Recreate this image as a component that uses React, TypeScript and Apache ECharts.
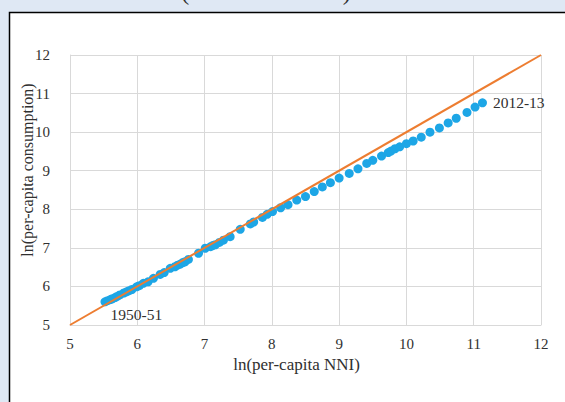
import React, { useEffect, useRef } from "react";
import * as echarts from "echarts";

const nniLn = [
  5.52, 5.56, 5.60, 5.63, 5.67, 5.70, 5.74, 5.80, 5.84, 5.88, 5.92, 5.99, 6.03,
  6.09, 6.16, 6.24, 6.34, 6.40, 6.49, 6.56, 6.60, 6.64, 6.68, 6.71, 6.76,
  6.91, 7.01, 7.09, 7.12, 7.16, 7.22, 7.28, 7.38, 7.53, 7.68, 7.73, 7.86,
  7.93, 8.01, 8.13, 8.24, 8.37, 8.50, 8.63, 8.75, 8.87, 9.00, 9.15, 9.28,
  9.41, 9.50, 9.63, 9.73, 9.77, 9.83, 9.90, 10.00, 10.10, 10.22, 10.35,
  10.49, 10.62, 10.74, 10.90, 11.02, 11.13,
];
const consLn = [
  5.60, 5.63, 5.66, 5.68, 5.71, 5.74, 5.78, 5.83, 5.86, 5.89, 5.92, 5.99, 6.02,
  6.08, 6.12, 6.21, 6.31, 6.36, 6.47, 6.51, 6.55, 6.58, 6.62, 6.64, 6.70,
  6.86, 6.99, 7.03, 7.06, 7.08, 7.14, 7.20, 7.29, 7.48, 7.62, 7.67, 7.79,
  7.87, 7.94, 8.04, 8.12, 8.24, 8.33, 8.46, 8.58, 8.69, 8.81, 8.93, 9.05,
  9.19, 9.27, 9.38, 9.47, 9.51, 9.57, 9.62, 9.70, 9.77, 9.87, 10.00,
  10.11, 10.24, 10.36, 10.51, 10.65, 10.76,
];
const refLineX = [5, 12];
const refLineY = [5, 12];
const firstLabel = "1950-51";
const lastLabel = "2012-13";
const xName = "ln(per-capita NNI)";
const yName = "ln(per-capita consumption)";
const titleText = "(Old CSO Series)";

const FONT = "'Liberation Serif', 'Times New Roman', serif";
const TEXT = "#303030";

export default function App() {
  const ref = useRef<HTMLDivElement>(null);
  useEffect(() => {
    document.body.style.margin = "0";
    if (!ref.current) return;
    const chart = echarts.init(ref.current, undefined, { renderer: "svg" });
    const n = nniLn.length;
    const scatterData = nniLn.map((x, i) => {
      const item: any = { value: [x, consLn[i]] };
      if (i === 0) {
        item.label = {
          show: true,
          formatter: firstLabel,
          position: [10, 9],
          align: "left",
          verticalAlign: "top",
        };
      } else if (i === n - 1) {
        item.label = {
          show: true,
          formatter: lastLabel,
          position: "right",
          distance: 6,
        };
      }
      return item;
    });
    chart.setOption({
      animation: false,
      backgroundColor: "#dfe8f4",
      textStyle: { fontFamily: FONT },
      graphic: [
        {
          type: "rect",
          shape: { x: 9.5, y: 12.5, width: 600, height: 420 },
          style: { fill: "#ffffff", stroke: "#000000", lineWidth: 1.5 },
          z: -10,
        },
        {
          type: "text",
          x: 266,
          y: 4,
          style: {
            text: titleText,
            fontFamily: FONT,
            fontSize: 24,
            fill: TEXT,
            textAlign: "center",
            textVerticalAlign: "bottom",
          },
          z: -5,
        },
        {
          type: "text",
          x: 27,
          y: 170,
          rotation: Math.PI / 2,
          style: {
            text: yName,
            fontFamily: FONT,
            fontSize: 16,
            fill: TEXT,
            textAlign: "center",
            textVerticalAlign: "middle",
          },
        },
      ],
      grid: { left: 70, right: 24, top: 55, bottom: 77 },
      xAxis: {
        type: "value",
        min: 5,
        max: 12,
        interval: 1,
        name: xName,
        nameLocation: "middle",
        nameGap: 31,
        nameTextStyle: { fontFamily: FONT, fontSize: 17, color: TEXT, padding: [0, 18, 0, 0] },
        axisLine: { show: true, lineStyle: { color: "#d9d9d9" } },
        axisTick: { show: false },
        axisLabel: { margin: 11, fontFamily: FONT, fontSize: 15, color: TEXT },
        splitLine: { show: true, lineStyle: { color: "#d9d9d9", width: 1 } },
      },
      yAxis: {
        type: "value",
        min: 5,
        max: 12,
        interval: 1,
        axisLine: { show: true, lineStyle: { color: "#d9d9d9" } },
        axisTick: { show: false },
        axisLabel: { margin: 20, fontFamily: FONT, fontSize: 15, color: TEXT },
        splitLine: { show: true, lineStyle: { color: "#d9d9d9", width: 1 } },
      },
      series: [
        {
          type: "scatter",
          data: scatterData,
          symbolSize: 9,
          itemStyle: { color: "#1da6e6", opacity: 1 },
          label: { fontFamily: FONT, fontSize: 15.5, color: TEXT },
          z: 2,
        },
        {
          type: "line",
          data: refLineX.map((x, i) => [x, refLineY[i]]),
          showSymbol: false,
          symbol: "none",
          lineStyle: { color: "#ed7d31", width: 2 },
          z: 3,
        },
      ],
    });
    return () => chart.dispose();
  }, []);
  return <div ref={ref} style={{ width: 565, height: 402 }} />;
}
